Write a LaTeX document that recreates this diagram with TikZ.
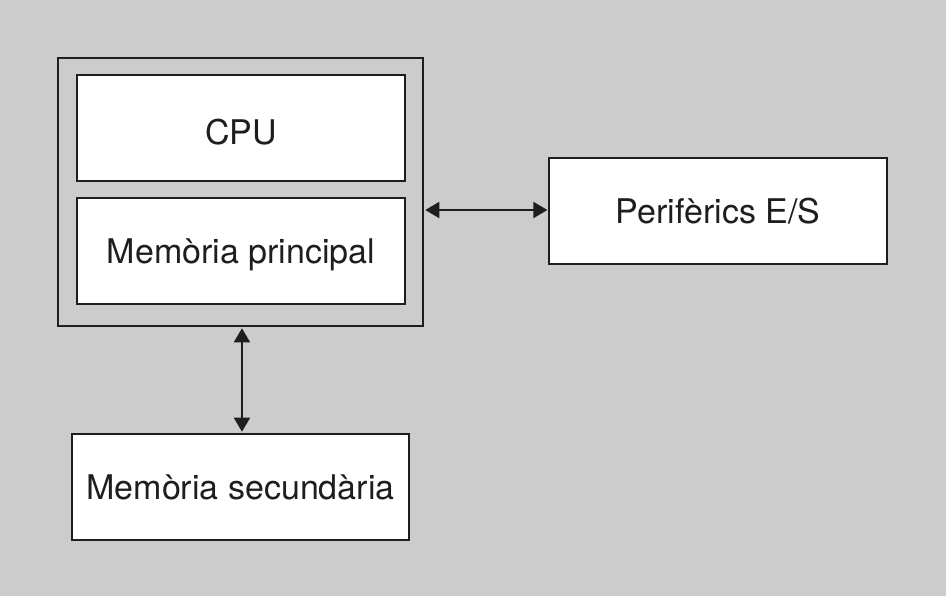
\documentclass[tikz,border=0pt]{standalone}
\usepackage{fontspec}
\setmainfont{TeX Gyre Heros}
\usetikzlibrary{arrows.meta}
\definecolor{bg}{HTML}{CCCCCC}
\definecolor{ink}{HTML}{1E1E1E}
\begin{document}
\begin{tikzpicture}[x=0.75pt,y=-0.75pt,
  box/.style={draw=ink,line width=1.4pt,fill=white,inner sep=0pt,minimum height=79.5pt,
    text height=20pt,text depth=2pt,
    font=\fontsize{25.5}{28}\selectfont,text=ink},
  frame/.style={draw=ink,line width=1.4pt,inner sep=0pt},
  conn/.style={draw=ink,line width=1.4pt,{Triangle[length=10.5pt,width=12pt]}-{Triangle[length=10.5pt,width=12pt]}}]
\fill[bg] (0,0) rectangle (946,596);
\useasboundingbox (0,0) rectangle (946,596);
\node[frame,minimum width=273.75pt,minimum height=201pt] (outer) at (240.5,192) {};
\node[box,minimum width=246pt] (cpu) at (241,128) {\raisebox{-3pt}{CPU}};
\node[box,minimum width=246pt] (mp) at (241,251) {Memòria principal};
\node[box,minimum width=253.5pt] (per) at (718,211) {Perifèrics E/S};
\node[box,minimum width=252.75pt] (sec) at (240.5,487) {Memòria secundària};
\draw[conn] ([xshift=1pt,yshift=0.75pt]per.west -| outer.east) -- ([xshift=-0.5pt,yshift=0.75pt]per.west);
\draw[conn] ([xshift=1.1pt,yshift=-1pt]outer.south) -- ([xshift=1.1pt,yshift=1pt]sec.north);
\end{tikzpicture}
\end{document}
